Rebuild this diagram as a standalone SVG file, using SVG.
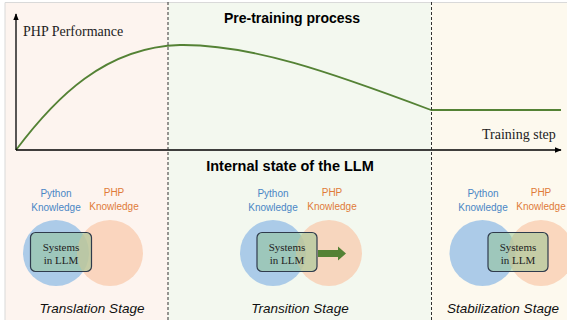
<svg xmlns="http://www.w3.org/2000/svg" width="567" height="320" viewBox="0 0 567 320">
<defs>
<style>
.title{font-family:"Liberation Sans",Arial,sans-serif;font-weight:bold;fill:#000;text-anchor:middle}
.axis{font-family:"Liberation Serif","Times New Roman",serif;font-size:14px;fill:#222}
.py{font-family:"Liberation Sans",Arial,sans-serif;font-size:10px;fill:#4A86C5;text-anchor:middle}
.php{font-family:"Liberation Sans",Arial,sans-serif;font-size:10px;fill:#E07B39;text-anchor:middle}
.sys{font-family:"Liberation Serif","Times New Roman",serif;font-size:11px;fill:#222;text-anchor:middle}
.stage{font-family:"Liberation Sans",Arial,sans-serif;font-style:italic;font-size:13.5px;fill:#111;text-anchor:middle}
.cb{fill:#9DC3E6;fill-opacity:0.85}
.co{fill:#F8CBAD;fill-opacity:0.75}
.box{fill:#8FC48E;fill-opacity:0.5;stroke:#2F3B4C;stroke-width:1.2}
.dash{stroke:#333;stroke-width:1;stroke-dasharray:3,2;fill:none}
</style>
<marker id="ah" viewBox="0 0 10 10" refX="9" refY="5" markerWidth="7" markerHeight="7" orient="auto" markerUnits="userSpaceOnUse">
<path d="M0,1 L10,5 L0,9 Z" fill="#000"/>
</marker>
</defs>
<rect x="0" y="0" width="567" height="320" fill="#fff"/>
<g id="panels">
<rect x="5" y="2" width="163" height="318" fill="#FDF4EF"/>
<rect x="168" y="2" width="263.5" height="318" fill="#F3F8EF"/>
<rect x="431.5" y="2" width="135.5" height="318" fill="#FDF9EE"/>
<path d="M5,320 V2.5 H567" fill="none" stroke="#D9D9D9" stroke-width="1"/>
</g>
<g id="titles">
<text class="title" x="292" y="23" font-size="14">Pre-training process</text>
<text class="title" x="290" y="171" font-size="14.5">Internal state of the LLM</text>
</g>
<g id="chart">
<path d="M16,150 C55,98 105,47 180,45 C250,44 330,72 431,110 L434,110 H561" fill="none" stroke="#548235" stroke-width="1.8"/>
<text class="axis" x="23" y="36">PHP Performance</text>
<text class="axis" x="482" y="139">Training step</text>
</g>
<g id="connectors">
<line x1="16" y1="150" x2="16" y2="14" stroke="#000" stroke-width="1.3" marker-end="url(#ah)"/>
<line x1="16" y1="150" x2="561" y2="150" stroke="#000" stroke-width="1.3" marker-end="url(#ah)"/>
<line class="dash" x1="168" y1="2" x2="168" y2="320"/>
<line class="dash" x1="431.5" y1="2" x2="431.5" y2="320"/>
</g>
<g id="stage-translation">
<circle class="cb" cx="56" cy="253" r="33"/>
<circle class="co" cx="110" cy="253" r="33"/>
<text class="py" x="56" y="197">Python</text>
<text class="py" x="56" y="211">Knowledge</text>
<text class="php" x="114" y="196">PHP</text>
<text class="php" x="114" y="210">Knowledge</text>
<rect class="box" x="30.5" y="232.5" width="61" height="39" rx="5"/>
<text class="sys" x="61" y="251">Systems</text>
<text class="sys" x="61" y="264">in LLM</text>
<text class="stage" x="92" y="313">Translation Stage</text>
</g>
<g id="stage-transition">
<circle class="cb" cx="273" cy="253" r="33"/>
<circle class="co" cx="329" cy="253" r="33"/>
<text class="py" x="273" y="197">Python</text>
<text class="py" x="273" y="211">Knowledge</text>
<text class="php" x="332" y="196">PHP</text>
<text class="php" x="332" y="210">Knowledge</text>
<rect class="box" x="257" y="232.5" width="60" height="39" rx="5"/>
<text class="sys" x="287" y="251">Systems</text>
<text class="sys" x="287" y="264">in LLM</text>
<path d="M318,250 H338 V246.5 L346,253.5 L338,260.5 V257 H318 Z" fill="#548235"/>
<text class="stage" x="300" y="313">Transition Stage</text>
</g>
<g id="stage-stabilization">
<circle class="cb" cx="482.5" cy="253" r="33"/>
<circle class="co" cx="541" cy="253" r="33"/>
<text class="py" x="483" y="197">Python</text>
<text class="py" x="483" y="211">Knowledge</text>
<text class="php" x="541" y="196">PHP</text>
<text class="php" x="541" y="210">Knowledge</text>
<rect class="box" x="488" y="232.5" width="60" height="39" rx="5"/>
<text class="sys" x="518" y="251">Systems</text>
<text class="sys" x="518" y="264">in LLM</text>
<text class="stage" x="503" y="313">Stabilization Stage</text>
</g>
</svg>
